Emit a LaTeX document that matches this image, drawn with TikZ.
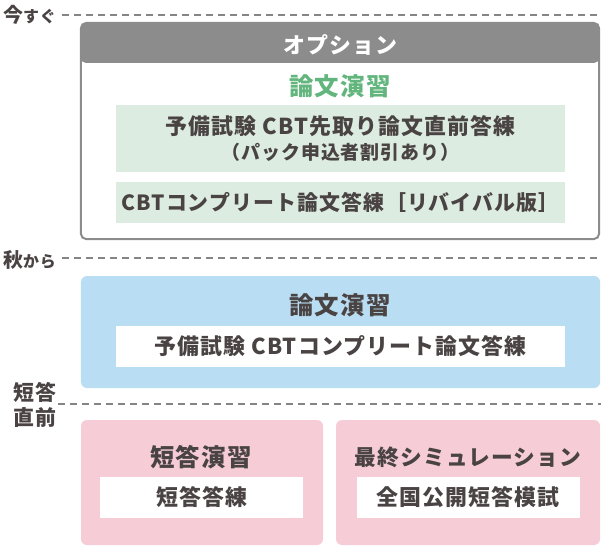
\documentclass[tikz,border=0pt]{standalone}
\usepackage{fontspec}
\setmainfont{Noto Sans CJK JP}[LetterSpace=5]
\usetikzlibrary{positioning}
\definecolor{txtdark}{HTML}{4A4343}
\definecolor{optgray}{HTML}{8C8C8C}
\definecolor{lawgreen}{HTML}{62B57C}
\definecolor{greenfill}{HTML}{DCECE0}
\definecolor{bluefill}{HTML}{B9DDF2}
\definecolor{pinkfill}{HTML}{F6CCD7}
\definecolor{rulegray}{HTML}{858585}
\tikzset{x=1bp,y=-1bp,
    every node/.style={
        text=txtdark,
        font=\bfseries,
        inner sep=0pt},
    timelabel/.style={
        anchor=west,
        font=\bfseries\fontsize{20}{20}\selectfont},
    timerule/.style={
        draw=rulegray,
        line width=1.4bp,
        dash pattern=on 7bp off 5bp},
    phasebox/.style={
        rounded corners=6bp,
        minimum height=125bp},
    titletext/.style={
        font=\bfseries\fontsize{24.5}{24.5}\selectfont},
    itemtext/.style={
        font=\bfseries\fontsize{22}{26}\selectfont,
        align=center},
    itembox/.style={
        itemtext,
        minimum height=41bp}}

\begin{document}
\begin{tikzpicture}
        \useasboundingbox (0,0) rectangle (601,546);

        % timeline labels
        \node[timelabel] (now) at (3,15) {今{\fontsize{16}{16}\selectfont すぐ}};
        \node[timelabel] (autumn) at (3,260) {秋{\fontsize{16}{16}\selectfont から}};
        \node[timelabel,align=center,anchor=center,font=\bfseries\fontsize{21}{25}\selectfont] (short) at (35,405) {短答\\直前};
        \coordinate (nowend) at (601,15);
        \coordinate (autumnend) at (601,258);
        \coordinate (shortstart) at (58,404);
        \coordinate (shortend) at (601,404);
        \draw[timerule] ([xshift=6bp]now.east |- nowend) -- (nowend);
        \draw[timerule] ([xshift=6bp]autumn.east |- autumnend) -- (autumnend);
        \draw[timerule] (shortstart) -- (shortend);

        % option
        \node[draw=optgray,fill=white,line width=2bp,rounded corners=5bp,
            minimum width=518bp,minimum height=216bp,
            path picture={\fill[optgray] (path picture bounding box.north west)
                rectangle ([yshift=-40bp]path picture bounding box.north east);}]
            (opt) at (340,131) {};
        \node[titletext,text=white,font=\bfseries\fontsize{22}{22}\selectfont] (opttitle) at (340,45) {オプション};
        \node[titletext,text=lawgreen] (optlaw) at (340,86) {論文演習};
        \node[itemtext,fill=greenfill,minimum width=449bp,minimum height=67bp] (optitem1) at (340.5,138.5)
            {予備試験 CBT先取り論文直前答練\\{\fontsize{19}{20}\selectfont （パック申込者割引あり）}};
        \node[itembox,fill=greenfill,minimum width=449bp,below=10bp of optitem1,
            font=\bfseries\fontsize{21}{26}\selectfont] (optitem2) {CBTコンプリート論文答練［リバイバル版］};

        % autumn
        \node[phasebox,fill=bluefill,minimum width=519bp,minimum height=112bp] (law) at (340.5,332) {};
        \node[titletext] (lawtitle) at (340,305) {論文演習};
        \node[itembox,fill=white,minimum width=449bp] (lawitem) at (340.5,346.5) {予備試験 CBTコンプリート論文答練};

        % short answer
        \node[phasebox,fill=pinkfill,minimum width=242bp] (sa) at (202,482.5) {};
        \node[titletext] (satitle) at (201,457) {短答演習};
        \node[itembox,fill=white,minimum width=203bp] (saitem) at (201.5,497.5) {短答答練};

        \node[phasebox,fill=pinkfill,minimum width=264bp] (sim) at (468,482.5) {};
        \node[titletext,font=\bfseries\fontsize{21.8}{21.8}\selectfont] (simtitle) at (468,457) {最終シミュレーション};
        \node[itembox,fill=white,minimum width=223bp] (simitem) at (468,497.5) {全国公開短答模試};
    \end{tikzpicture}
\end{document}
